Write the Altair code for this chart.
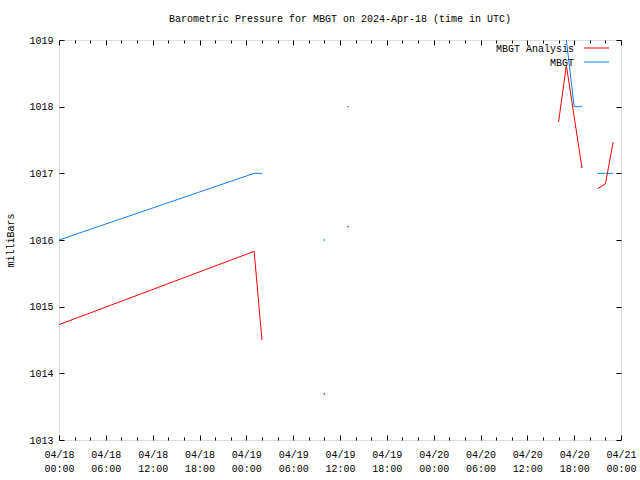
import altair as alt
import pandas as pd

FONT = "Liberation Mono"

series_names = ["MBGT Analysis", "MBGT"]
series_colors = ["#ff0000", "#0c80f0"]

# MBGT Analysis (red)
analysis_time = [
    "2024-04-18T00:00:00Z", "2024-04-19T01:00:00Z", "2024-04-19T02:00:00Z",
    "2024-04-19T10:00:00Z",
    "2024-04-19T13:00:00Z",
    "2024-04-20T16:00:00Z", "2024-04-20T17:00:00Z", "2024-04-20T19:00:00Z",
    "2024-04-20T21:00:00Z", "2024-04-20T22:00:00Z", "2024-04-20T23:00:00Z",
]
analysis_value = [1014.73, 1015.83, 1014.50,
                  1013.69,
                  1016.20,
                  1017.77, 1018.62, 1017.08,
                  1016.77, 1016.84, 1017.47]
analysis_seg = [0, 0, 0, 1, 2, 3, 3, 3, 4, 4, 4]

# MBGT observations (blue)
obs_time = [
    "2024-04-18T00:00:00Z", "2024-04-19T01:00:00Z", "2024-04-19T02:00:00Z",
    "2024-04-19T10:00:00Z",
    "2024-04-19T13:00:00Z",
    "2024-04-20T17:00:00Z", "2024-04-20T18:00:00Z", "2024-04-20T19:00:00Z",
    "2024-04-20T21:00:00Z", "2024-04-20T22:00:00Z", "2024-04-20T23:00:00Z",
]
obs_value = [1016.0, 1017.0, 1017.0,
             1016.0,
             1018.0,
             1019.0, 1018.0, 1018.0,
             1017.0, 1017.0, 1017.0]
obs_seg = [0, 0, 0, 1, 2, 3, 3, 3, 4, 4, 4]

y_ticks = [1013, 1014, 1015, 1016, 1017, 1018, 1019]
x_tick_hours = list(range(0, 73, 2))  # major every 6 h, minor every 2 h
x_ticks = [alt.DateTime(year=2024, month=4, date=18 + h // 24, hours=h % 24, utc=True)
           for h in x_tick_hours]

W, H = 562, 400


def frame(times, values, segs, name):
    df = pd.DataFrame({"time": times, "value": values, "seg": segs, "series": name})
    counts = df.groupby("seg")["seg"].transform("count")
    df["single"] = counts == 1
    return df


df = pd.concat([
    frame(analysis_time, analysis_value, analysis_seg, series_names[0]),
    frame(obs_time, obs_value, obs_seg, series_names[1]),
], ignore_index=True)

x_axis = alt.Axis(
    values=x_ticks, domain=False, ticks=False, grid=True,
    gridColor="black", gridOpacity=1, gridWidth=1,
    gridDash={"condition": {"test": "utchours(datum.value) % 6 == 0", "value": [5, 390, 5]},
              "value": [3, 394, 3]},
    labelExpr="utchours(datum.value) % 6 == 0 ? [utcFormat(datum.value, '%m/%d'), utcFormat(datum.value, '%H:%M')] : ''",
    labelFont=FONT, labelFontSize=10, labelColor="black", labelPadding=9,
    labelLineHeight=14, labelAngle=0, labelFlush=False, labelOverlap=False,
    title=None,
)
y_axis = alt.Axis(
    values=y_ticks, domain=False, ticks=False, grid=True,
    gridColor="black", gridOpacity=1, gridWidth=1, gridDash=[5, 552, 5],
    format="d", labelFont=FONT, labelFontSize=10, labelColor="black",
    labelPadding=6, labelFlush=False,
    title="milliBars", titleFont=FONT, titleFontSize=10, titleFontWeight="normal",
    titleColor="black", titleX=-49, titleY=200, titleAngle=-90,
    titleAlign="center", titleBaseline="middle",
)

color = alt.Color("series:N", scale=alt.Scale(domain=series_names, range=series_colors), legend=None)

base = alt.Chart(df).encode(
    x=alt.X("time:T", scale=alt.Scale(type="utc",
                                      domain=[alt.DateTime(year=2024, month=4, date=18, utc=True),
                                              alt.DateTime(year=2024, month=4, date=21, utc=True)],
                                      nice=False),
            axis=x_axis),
    y=alt.Y("value:Q", scale=alt.Scale(domain=[1013, 1019], nice=False, zero=False), axis=y_axis),
    color=color,
)

lines = base.mark_line(strokeWidth=1, clip=True).encode(detail="seg:N")
dots = base.transform_filter("datum.single").mark_square(size=2, opacity=1, filled=True)

legend_layers = []
for i, (name, col) in enumerate(zip(series_names, series_colors)):
    ld = pd.DataFrame({"label": [name]})
    legend_layers.append(
        alt.Chart(ld).mark_text(align="right", baseline="middle", font=FONT, fontSize=10,
                                color="black").encode(
            text="label:N", x=alt.value(515), y=alt.value(9 + 14 * i))
    )
    legend_layers.append(
        alt.Chart(ld).mark_rule(color=col, strokeWidth=1).encode(
            x=alt.value(525), x2=alt.value(550), y=alt.value(8 + 14 * i))
    )

chart = alt.layer(lines, dots, *legend_layers).properties(
    width=W, height=H,
    title=alt.TitleParams("Barometric Pressure for MBGT on 2024-Apr-18 (time in UTC)",
                          font=FONT, fontSize=10, fontWeight="normal", anchor="middle",
                          color="black", offset=11),
    autosize=alt.AutoSizeParams(type="none"),
    padding={"left": 59, "top": 40, "right": 19, "bottom": 40},
).configure_view(stroke="black", strokeWidth=1).configure(background="white")

chart.save("out.html", embed_options={"renderer": "svg", "actions": False})
